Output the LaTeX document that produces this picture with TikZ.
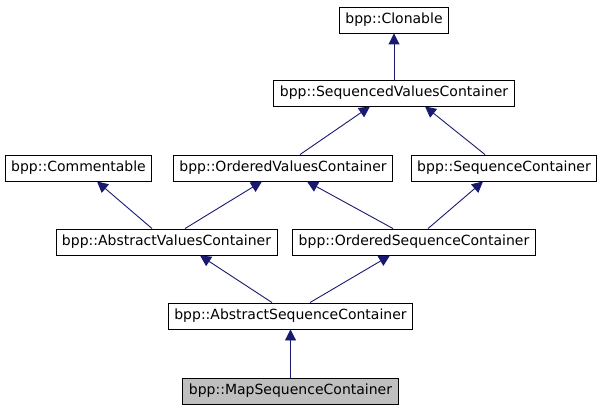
\documentclass[tikz,border=0pt]{standalone}
\usepackage{fontspec}
\setmainfont{DejaVu Sans}
\usepackage{xcolor}
\usepackage{tikz}
\usetikzlibrary{arrows.meta}
\definecolor{edgeblue}{HTML}{191970}
\definecolor{selgray}{HTML}{BFBFBF}
\tikzset{cls/.style={draw=black,fill=white,line width=0.9pt,minimum height=26pt,inner xsep=6pt,inner ysep=0pt,font=\fontsize{14}{16}\selectfont},
inh/.style={edgeblue,line width=0.9pt,-{Triangle[length=11pt,width=11pt]}}}
\begin{document}
\begin{tikzpicture}[x=1pt,y=-1pt]
\useasboundingbox (0,0) rectangle (599,411);
\node[cls](clon) at (394,20){bpp::Clonable};
\node[cls](svc) at (394,93){bpp::SequencedValuesContainer};
\node[cls](cmt) at (78.5,168){bpp::Commentable};
\node[cls](ovc) at (283,168){bpp::OrderedValuesContainer};
\node[cls](sqc) at (504,168){bpp::SequenceContainer};
\node[cls](avc) at (166.5,242){bpp::AbstractValuesContainer};
\node[cls](osc) at (414,242){bpp::OrderedSequenceContainer};
\node[cls](asc) at (290.5,316){bpp::AbstractSequenceContainer};
\node[cls,fill=selgray](msc) at (290.5,391){bpp::MapSequenceContainer};
\draw[inh](svc.north)--(clon.south);
\draw[inh]([xshift=17pt]ovc.north)--([xshift=-24pt]svc.south);
\draw[inh]([xshift=-19pt]sqc.north)--([xshift=31pt]svc.south);
\draw[inh]([xshift=-14.5pt]avc.north)--([xshift=18.5pt]cmt.south);
\draw[inh]([xshift=18.5pt]avc.north)--([xshift=-21pt]ovc.south);
\draw[inh]([xshift=-21pt]osc.north)--([xshift=24pt]ovc.south);
\draw[inh]([xshift=14pt]osc.north)--([xshift=-21pt]sqc.south);
\draw[inh]([xshift=-18.5pt]asc.north)--([xshift=33.5pt]avc.south);
\draw[inh]([xshift=19.5pt]asc.north)--([xshift=-24pt]osc.south);
\draw[inh](msc.north)--(asc.south);
\end{tikzpicture}
\end{document}
